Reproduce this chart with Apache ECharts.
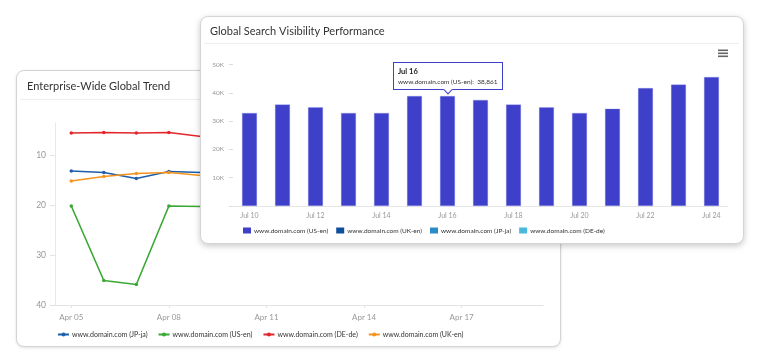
<!DOCTYPE html>
<html>
<head>
<meta charset="utf-8">
<script src="https://cdn.jsdelivr.net/npm/echarts@6/dist/echarts.min.js"></script>
<style>
  html, body { margin: 0; padding: 0; background: #fff; width: 761px; height: 364px; overflow: hidden; font-family: Lato, sans-serif; }
  .card { position: absolute; box-sizing: border-box; background: #fff; border: 1px solid #d4d4d4; border-radius: 8px; }
  #back { left: 16px; top: 70px; width: 545px; height: 277px; box-shadow: 0 1px 3px rgba(0,0,0,0.12); }
  #front { left: 200px; top: 16px; width: 544px; height: 228px; box-shadow: 0 2px 6px rgba(0,0,0,0.22); z-index: 2; }
</style>
</head>
<body>
<div id="back" class="card"></div>
<div id="front" class="card"></div>
<script>
// ---- Back chart data (rank, lower is better) ----
const trendCategories = ['Apr 05','Apr 06','Apr 07','Apr 08','Apr 09','Apr 10','Apr 11','Apr 12','Apr 13','Apr 14','Apr 15','Apr 16','Apr 17','Apr 18','Apr 19'];
const trendJpJa = [13.2, 13.5, 14.7, 13.3, 13.5, null, null, null, null, null, null, null, null, null, null];
const trendUsEn = [20.2, 35.1, 35.9, 20.2, 20.3, null, null, null, null, null, null, null, null, null, null];
const trendDeDe = [5.6, 5.5, 5.6, 5.5, 6.3, null, null, null, null, null, null, null, null, null, null];
const trendUkEn = [15.2, 14.3, 13.7, 13.5, 14.1, null, null, null, null, null, null, null, null, null, null];
const trendTicks = [10, 20, 30, 40];
const trendNames = ['www.domain.com (JP-ja)', 'www.domain.com (US-en)', 'www.domain.com (DE-de)', 'www.domain.com (UK-en)'];

// ---- Front chart data ----
const visCategories = ['Jul 10','Jul 11','Jul 12','Jul 13','Jul 14','Jul 15','Jul 16','Jul 17','Jul 18','Jul 19','Jul 20','Jul 21','Jul 22','Jul 23','Jul 24'];
const visUsEn = [32900, 35900, 34900, 32900, 32900, 38900, 38861, 37500, 35900, 34900, 32900, 34400, 41700, 42900, 45600];
const visNames = ['www.domain.com (US-en)', 'www.domain.com (UK-en)', 'www.domain.com (JP-ja)', 'www.domain.com (DE-de)'];

const FONT = 'Lato';

// ---------- Back chart ----------
const back = echarts.init(document.getElementById('back'), null, { renderer: 'canvas' });
const trendColors = ['#1c5ea9', '#3aa835', '#e3262b', '#f7941d'];
const trendData = [trendJpJa, trendUsEn, trendDeDe, trendUkEn];
back.setOption({
  animation: false,
  textStyle: { fontFamily: FONT },
  title: {
    text: 'Enterprise-Wide Global Trend',
    left: 10, top: 9.5, padding: 0,
    textStyle: { fontFamily: FONT, fontSize: 11, fontWeight: 'normal', color: '#333' }
  },
  graphic: [{
    type: 'line', shape: { x1: 3, y1: 28.5, x2: 539, y2: 28.5 },
    style: { stroke: '#eeeeee', lineWidth: 1 }, silent: true
  }],
  legend: {
    left: 40, top: 260, padding: 0,
    itemWidth: 11, itemHeight: 5, itemGap: 10,
    textStyle: { fontFamily: FONT, fontSize: 7, color: '#333', padding: [0, 0, 0, -2] },
    data: trendNames
  },
  grid: { left: 38, top: 52, width: 488, height: 182 },
  xAxis: {
    type: 'category', data: trendCategories, boundaryGap: true,
    axisLine: { lineStyle: { color: '#e3e3e3' } },
    axisTick: { show: true, alignWithLabel: true, interval: 2, length: 3, lineStyle: { color: '#e3e3e3' } },
    axisLabel: { interval: 2, color: '#999', fontSize: 8, fontFamily: FONT, margin: 8 }
  },
  yAxis: {
    type: 'value', inverse: true, min: 3.6, max: 40,
    axisLine: { show: true, lineStyle: { color: '#e8e8e8' } },
    axisTick: { show: true, length: 5, customValues: trendTicks, lineStyle: { color: '#e3e3e3' } },
    axisLabel: { customValues: trendTicks, color: '#999', fontSize: 8.5, fontFamily: FONT, margin: 9 },
    splitLine: { show: false }
  },
  series: trendNames.map((n, i) => ({
    name: n, type: 'line', data: trendData[i],
    color: trendColors[i],
    symbol: 'circle', symbolSize: 3.5, showSymbol: true,
    lineStyle: { width: 1.6 },
    connectNulls: false
  }))
});

// ---------- Front chart ----------
const front = echarts.init(document.getElementById('front'), null, { renderer: 'canvas' });
const barColors = ['#3e40c9', '#0e4f9c', '#2b8bc6', '#4ab8da'];
front.setOption({
  animation: false,
  textStyle: { fontFamily: FONT },
  title: {
    text: 'Global Search Visibility Performance',
    left: 9, top: 8.5, padding: 0,
    textStyle: { fontFamily: FONT, fontSize: 11, fontWeight: 'normal', color: '#333' }
  },
  graphic: [
    { type: 'line', shape: { x1: 3, y1: 26.5, x2: 538, y2: 26.5 }, style: { stroke: '#eeeeee', lineWidth: 1 }, silent: true },
    { type: 'rect', shape: { x: 517, y: 32.5, width: 10, height: 1.6 }, style: { fill: '#666' }, silent: true },
    { type: 'rect', shape: { x: 517, y: 35.5, width: 10, height: 1.6 }, style: { fill: '#666' }, silent: true },
    { type: 'rect', shape: { x: 517, y: 38.5, width: 10, height: 1.6 }, style: { fill: '#666' }, silent: true }
  ],
  legend: {
    left: 42, top: 210, padding: 0,
    icon: 'rect', itemWidth: 8, itemHeight: 6, itemGap: 8,
    itemStyle: { borderWidth: 0 },
    textStyle: { fontFamily: FONT, fontSize: 6.5, color: '#333', padding: [0, 0, 0, -2] },
    data: visNames
  },
  tooltip: {
    trigger: 'item', triggerOn: 'none', alwaysShowContent: true, position: 'top',
    backgroundColor: '#fff', borderColor: '#3e40c9', borderWidth: 1, borderRadius: 0,
    padding: [3, 4], shadowBlur: 0, shadowColor: 'transparent',
    extraCssText: 'box-shadow:none;margin-top:4px;',
    formatter: function (p) {
      return '<div style="font-family:Lato;font-weight:bold;font-size:7.5px;line-height:11px;color:#222">' + p.name + '</div>' +
        '<div style="font-family:Lato;font-size:6.5px;line-height:9px;color:#333">' + p.seriesName + ':&nbsp; ' + p.value.toLocaleString('en-US') + '</div>';
    }
  },
  grid: { left: 32, top: 47.5, width: 495, height: 141.5 },
  xAxis: {
    type: 'category', data: visCategories, boundaryGap: true,
    axisLine: { lineStyle: { color: '#e6e6e6' } },
    axisTick: { show: false },
    axisLabel: { interval: 1, color: '#999', fontSize: 7, fontFamily: FONT, margin: 6 }
  },
  yAxis: {
    type: 'value', min: 0, max: 50000, interval: 10000,
    axisLine: { show: false },
    axisTick: { show: true, length: 4, lineStyle: { color: '#dddddd' } },
    axisLabel: { color: '#999', fontSize: 6.5, fontFamily: FONT, margin: 9,
      formatter: v => v === 0 ? '' : (v / 1000) + 'K' },
    splitLine: { show: false }
  },
  series: visNames.map((n, i) => ({
    name: n, type: 'bar', stack: 'vis',
    data: i === 0 ? visUsEn : [],
    color: barColors[i],
    barWidth: 15,
    itemStyle: { borderColor: 'rgba(140,142,230,0.6)', borderWidth: 0.5 }
  }))
});
front.dispatchAction({ type: 'showTip', seriesIndex: 0, dataIndex: 6 });
</script>
</body>
</html>
